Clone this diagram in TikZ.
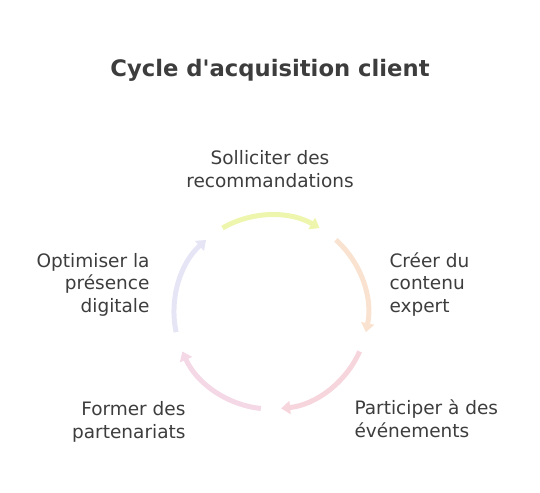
\documentclass[tikz,border=0pt]{standalone}
\usepackage{fontspec}
\newfontfamily\stepfont{DejaVu Sans}
\usepackage{xcolor}
\definecolor{colorText}{HTML}{3D3D3D}
\definecolor{colorRecommend}{HTML}{EDF6AC}
\definecolor{colorContent}{HTML}{F9E2D0}
\definecolor{colorEvents}{HTML}{F7D5DD}
\definecolor{colorPartners}{HTML}{F4D8E5}
\definecolor{colorPresence}{HTML}{E6E5F6}
\usetikzlibrary{arrows.meta, positioning}
\tikzset{step text/.style={text=colorText, inner sep=0pt, font=\stepfont\fontsize{18.5}{22.5}\selectfont}}

\begin{document}
\begin{tikzpicture}[x=1pt, y=1pt, >={Triangle[length=9pt,width=13pt]}, line width=5pt]
\useasboundingbox (0,0) rectangle (540,-492);
\node[text=colorText, inner sep=0pt, anchor=base, font=\stepfont\bfseries\fontsize{22.7}{27}\selectfont] (title) at (270,-77) {Cycle d'acquisition client};
\coordinate (centre) at (271,-312);
\foreach \step/\from/\to/\col in {rec/120/60/colorRecommend, con/48/-12/colorContent, eve/-24/-84/colorEvents, par/-96/-156/colorPartners, pre/-168/-228/colorPresence}
{
  \path (centre) ++(\from:97) coordinate (\step a) (centre) ++(\to:97) coordinate (\step b);
  \draw [->, \col] (\step a) to [bend left=30, looseness=0.91] (\step b);
}
\node[step text, align=center, anchor=base] (recommend) at (270,-187) {Solliciter des\\recommandations};
\node[step text, align=left, anchor=base west] (content) at (387,-312) {Créer du\\contenu\\expert};
\node[step text, align=left, anchor=base west] (events) at (352,-437) {Participer à des\\événements};
\node[step text, align=right, anchor=base east] (partners) at (188,-438) {Former des\\partenariats};
\node[step text, align=right, anchor=base east] (presence) at (152,-312) {Optimiser la\\présence\\digitale};
\end{tikzpicture}
\end{document}
